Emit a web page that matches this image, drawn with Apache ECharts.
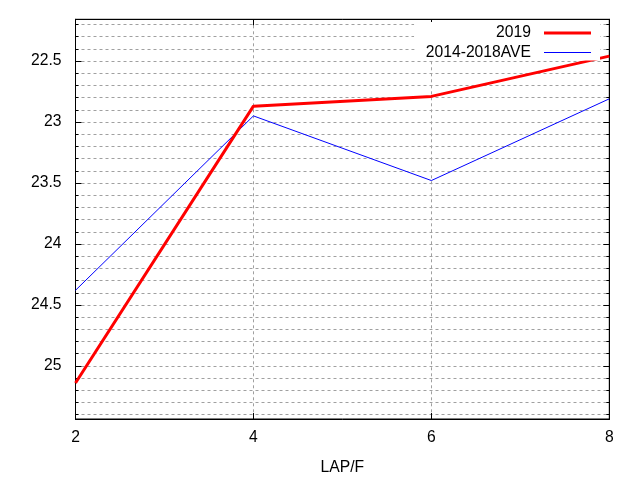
<!DOCTYPE html>
<html><head><meta charset="utf-8">
<script src="https://cdn.jsdelivr.net/npm/echarts@6/dist/echarts.min.js"></script>
<style>html,body{margin:0;padding:0;background:#fff}#c{width:640px;height:480px}</style>
</head><body><div id="c"></div>
<script>
const laps = [2, 4, 6, 8];
const s2019 = [25.14, 22.87, 22.79, 22.46];
const sAve = [24.38, 22.95, 23.48, 22.81];
const seriesNames = ['2019', '2014-2018AVE'];
const yMin = 22.158, yMax = 25.435;
const FONT = 'Liberation Sans';
const FS = 15.7;

const chart = echarts.init(document.getElementById('c'), null, {renderer: 'canvas'});
const gridLine = {show: true, lineStyle: {color: '#a0a0a0', type: [3, 3], width: 1}};
const black = {color: '#000', width: 1};
function yAx(pos, split, tickLen, extra) {
  return Object.assign({
    type: 'value', inverse: true, min: yMin, max: yMax, splitNumber: split, position: pos,
    axisLine: {show: true, onZero: false, lineStyle: black},
    axisTick: {show: true, inside: true, length: tickLen, lineStyle: black},
    axisLabel: {show: false}, splitLine: {show: false}
  }, extra || {});
}
const legendText = {fontFamily: FONT, fontSize: FS, color: '#000', padding: [0, 8, 0, 0]};
chart.setOption({
  animation: false,
  backgroundColor: '#fff',
  textStyle: {fontFamily: FONT},
  grid: {left: 75.5, right: 30.7, top: 19.3, bottom: 61, show: true, borderColor: '#000', borderWidth: 1,
    outerBoundsMode: 'none', containLabel: false},
  legend: [{
    orient: 'vertical', right: 40, top: 22, align: 'right', icon: 'rect',
    itemWidth: 47, itemHeight: 3, backgroundColor: '#fff', padding: [3, 9, 3, 82],
    textStyle: legendText, data: [seriesNames[0]]
  }, {
    orient: 'vertical', right: 40, top: 43.5, align: 'right', icon: 'rect',
    itemWidth: 47, itemHeight: 1, backgroundColor: '#fff', padding: [1, 9, 0, 11],
    textStyle: legendText, data: [seriesNames[1]]
  }],
  xAxis: [{
    type: 'value', min: 2, max: 8, interval: 2,
    name: 'LAP/F', nameLocation: 'middle', nameGap: 41,
    nameTextStyle: {fontFamily: FONT, fontSize: FS, color: '#000'},
    axisLine: {show: true, onZero: false, lineStyle: black},
    axisTick: {show: true, inside: true, length: 6, lineStyle: black},
    axisLabel: {fontFamily: FONT, fontSize: FS, color: '#000', margin: 11},
    splitLine: gridLine
  }, {
    type: 'value', min: 2, max: 8, interval: 2, position: 'top',
    axisLine: {show: true, onZero: false, lineStyle: black},
    axisTick: {show: true, inside: true, length: 6, lineStyle: black},
    axisLabel: {show: false}, splitLine: {show: false}
  }],
  yAxis: [
    yAx('left', 33, 3, {
      axisLabel: {show: true, interval: 0, fontFamily: FONT, fontSize: FS, color: '#000', margin: 14,
        showMinLabel: false, showMaxLabel: false,
        formatter: v => {
          const h = v * 2;
          return Math.abs(h - Math.round(h)) < 1e-6 ? String(+v.toFixed(1)) : '';
        }},
      splitLine: gridLine
    }),
    yAx('right', 33, 3),
    yAx('left', 7, 6),
    yAx('right', 7, 6)
  ],
  series: [{
    name: seriesNames[0], type: 'line', data: laps.map((x, i) => [x, s2019[i]]),
    symbol: 'none', lineStyle: {color: '#ff0000', width: 3}, itemStyle: {color: '#ff0000'}, z: 3
  }, {
    name: seriesNames[1], type: 'line', data: laps.map((x, i) => [x, sAve[i]]),
    symbol: 'none', lineStyle: {color: '#0000ff', width: 1}, itemStyle: {color: '#0000ff'}, z: 2
  }]
});
</script></body></html>
